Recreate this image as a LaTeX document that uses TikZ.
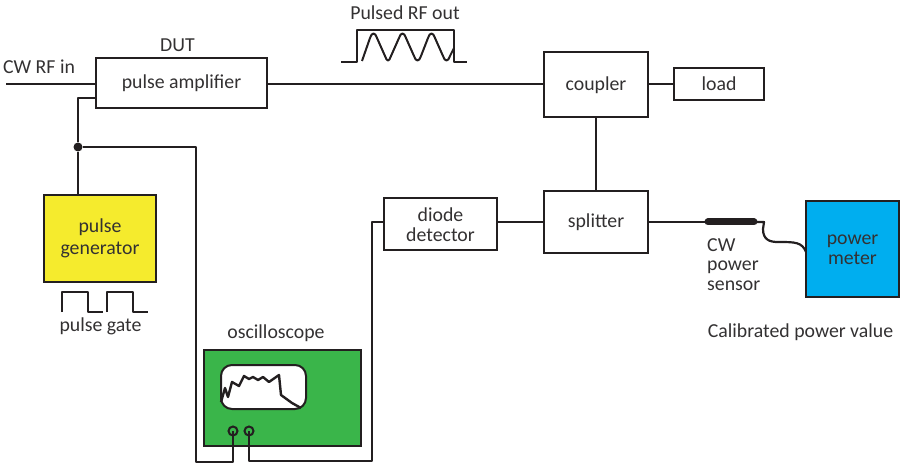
\documentclass[tikz,border=0pt]{standalone}
\usepackage{fontspec}
\setmainfont{Carlito}
\definecolor{ink}{HTML}{231F20}
\definecolor{txt}{HTML}{333132}
\definecolor{yel}{HTML}{F5EB2D}
\definecolor{grn}{HTML}{3AB54A}
\definecolor{blu}{HTML}{00AEEF}
\tikzset{
  boxn/.style={draw=ink,line width=2.8pt,inner sep=0pt,align=center,text=txt,font=\fontsize{19.8}{20}\selectfont},
  lbl/.style={inner sep=0pt,align=center,text=txt,font=\fontsize{19.8}{19.5}\selectfont},
  wire/.style={draw=ink,line width=2.8pt,line join=round},
  thinw/.style={draw=ink,line width=2pt,line join=round}
}
\begin{document}
\begin{tikzpicture}[x=1pt,y=-1pt]
\useasboundingbox (0,0) rectangle (903,468);
\node[boxn,minimum width=171pt,minimum height=50pt] (amp) at (181.5,83) {};
\node[boxn,minimum width=104pt,minimum height=65pt] (coupler) at (596,84.5) {};
\node[boxn,minimum width=90pt,minimum height=32pt] (load) at (719,84) {};
\node[boxn,minimum width=104pt,minimum height=62pt] (splitter) at (596,222) {};
\node[boxn,minimum width=113pt,minimum height=52pt] (diode) at (440.5,224) {};
\node[boxn,fill=yel,minimum width=112pt,minimum height=87pt] (gen) at (100,238.5) {};
\node[boxn,fill=grn,minimum width=157pt,minimum height=96pt] (scope) at (282.5,398) {};
\node[boxn,fill=blu,minimum width=93pt,minimum height=96pt] (meter) at (852.5,249) {};
\node[lbl] (tamp) at (181.5,83.5) {pulse amplifier};
\node[lbl] (tcoup) at (596,85) {coupler};
\node[lbl] (tload) at (719,84) {load};
\node[lbl] (tsplit) at (596,222) {splitter};
\node[lbl] (tdiode) at (440.5,224.5) {diode\\detector};
\node[lbl,font=\fontsize{19.8}{21.5}\selectfont] (tgen) at (100,238.5) {pulse\\generator};
\node[lbl] (tmeter) at (852.5,250) {power\\meter};
\node[draw=ink,line width=2pt,fill=white,rounded corners=11pt,minimum width=85pt,minimum height=44pt,inner sep=0pt] (screen) at (263.5,387) {};
\node[circle,draw=ink,line width=2pt,minimum size=9pt,inner sep=0pt] (k1) at (233,431) {};
\node[circle,draw=ink,line width=2pt,minimum size=9pt,inner sep=0pt] (k2) at (249,431) {};
\node[circle,fill=ink,minimum size=9pt,inner sep=0pt] (dot) at (78,147) {};
\node[lbl] (tin) at (39,67) {CW RF in};
\node[lbl] (tdut) at (177.5,45) {DUT};
\node[lbl] (tout) at (405,13) {Pulsed RF out};
\node[lbl] (tgate) at (100.5,326) {pulse gate};
\node[lbl] (tscope) at (276,333) {oscilloscope};
\node[lbl,align=left,anchor=north west] (tsens) at (707,238) {CW\\power\\sensor};
\node[lbl] (tcal) at (800.5,332) {Calibrated power value};
% connectors
\coordinate (inl) at (6,84);
\draw[wire] (inl) -- (inl -| amp.west);
\draw[wire] (amp.east |- 0,84) -- (coupler.west |- 0,84);
\draw[wire] (coupler.east |- load.west) -- (load.west);
\draw[wire] (coupler.south) -- (splitter.north);
\draw[wire] (diode.east |- splitter.west) -- (splitter.west);
\coordinate (sa) at (705,222); \coordinate (sb) at (757,222); \coordinate (sc) at (764,222);
\draw[wire,line width=2.2pt] (splitter.east) -- (sa);
\draw[ink,line width=7pt,line cap=round] ([xshift=3pt]sa) -- ([xshift=-3pt]sb);
\draw[wire,line width=2.2pt] (sb) -- (sc) -- (763,229) .. controls (763,240) and (770,242) .. (778,242) .. controls (795,242) and (802,242) .. (806,252);
\draw[wire] (amp.west |- 0,98) -- (78,98) -- (dot) -- (gen.north -| dot);
\draw[wire] (dot) -- (196,147) -- (196,462) -- (233,462) -- (k1.center);
\draw[wire] (k2.center) -- (249,461) -- (372,461) -- (372,222) -- (diode.west |- 0,222);
% waveforms
\draw[thinw] (341,62) -- (357,62) -- (357,30) -- (454,30) -- (454,62) -- (467,62);
\draw[thinw] (362,61) -- (370,38) .. controls (372,32) and (375,32) .. (377,38) -- (385,56) .. controls (387,62) and (389,62) .. (391,56) -- (399,38) .. controls (401,32) and (404,32) .. (406,38) -- (414,56) .. controls (416,62) and (419,62) .. (421,56) -- (428,38) .. controls (430,32) and (433,32) .. (435,38) -- (443,56) .. controls (445,62) and (448,62) .. (450,56) -- (454,48);
\draw[thinw] (62,312) -- (62,292) -- (88,292) -- (88,312) -- (103,312);
\draw[thinw] (107,312) -- (107,292) -- (133,292) -- (133,312) -- (148,312);
\draw[ink,line width=2.4pt,line join=round] (221,402) -- (225,388) -- (228,397) -- (232,382) -- (239,386) -- (244,376) -- (249,379) -- (253,377) -- (258,380) -- (263,377) -- (269,382) -- (279,375) -- (281,395) -- (292,403) -- (301,408);
\end{tikzpicture}
\end{document}
